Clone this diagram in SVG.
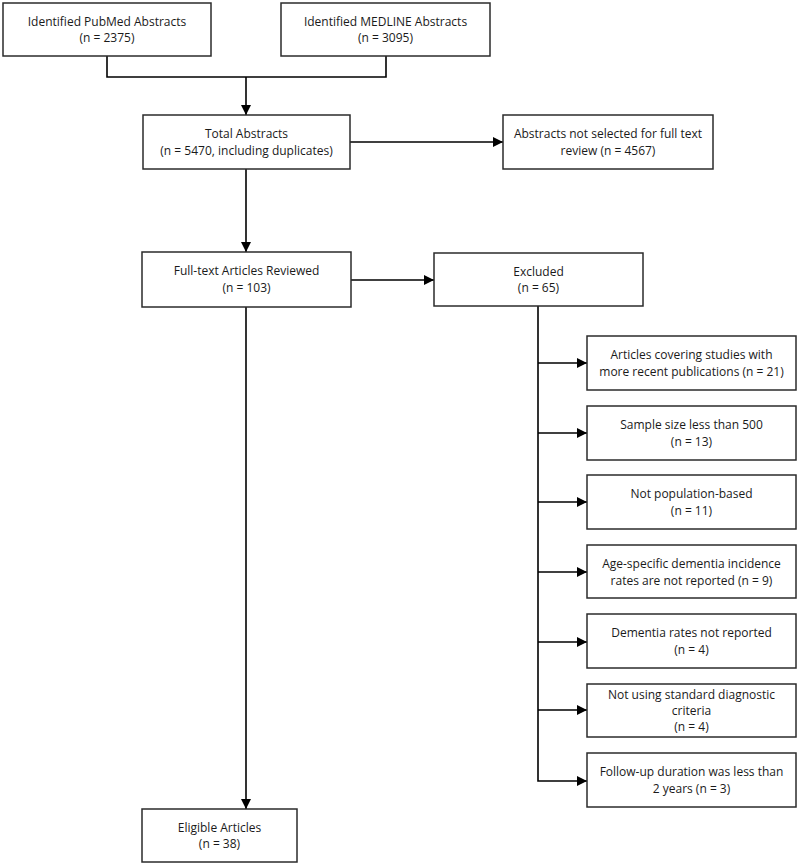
<svg xmlns="http://www.w3.org/2000/svg" width="800" height="867" viewBox="0 0 800 867">
<style>
.box{fill:#fff;stroke:#2b2b2b;stroke-width:1.5}
.t{font-family:"Open Sans","Liberation Sans",sans-serif;font-size:12px;fill:#1a1a1a;text-anchor:middle}
.c{fill:none;stroke:#000;stroke-width:1.6}
</style>
<defs>
<marker id="ah" viewBox="0 0 10 10" refX="10" refY="5" markerWidth="10" markerHeight="10" markerUnits="userSpaceOnUse" orient="auto">
<path d="M0,0 L10,5 L0,10 z" fill="#000"/>
</marker>
</defs>
<rect width="800" height="867" fill="#fff"/>
<g id="connectors">
<path class="c" d="M107,56 V77 H386 V56"/>
<path class="c" d="M246,77 V115" marker-end="url(#ah)"/>
<path class="c" d="M350,142 H503" marker-end="url(#ah)"/>
<path class="c" d="M246,169 V252" marker-end="url(#ah)"/>
<path class="c" d="M351,280 H434" marker-end="url(#ah)"/>
<path class="c" d="M246,307 V809" marker-end="url(#ah)"/>
<path class="c" d="M538,306 V781 H587" marker-end="url(#ah)"/>
<path class="c" d="M538,363 H587" marker-end="url(#ah)"/>
<path class="c" d="M538,433 H587" marker-end="url(#ah)"/>
<path class="c" d="M538,502 H587" marker-end="url(#ah)"/>
<path class="c" d="M538,572 H587" marker-end="url(#ah)"/>
<path class="c" d="M538,642 H587" marker-end="url(#ah)"/>
<path class="c" d="M538,710 H587" marker-end="url(#ah)"/>
</g>
<g id="pubmed"><rect class="box" x="3" y="3" width="208" height="53"/>
<text class="t" x="107" y="26">Identified PubMed Abstracts</text><text class="t" x="107" y="42">(n = 2375)</text></g>
<g id="medline"><rect class="box" x="281" y="3" width="209" height="53"/>
<text class="t" x="385.5" y="26">Identified MEDLINE Abstracts</text><text class="t" x="385.5" y="42">(n = 3095)</text></g>
<g id="total"><rect class="box" x="143" y="115" width="207" height="54"/>
<text class="t" x="246.5" y="138">Total Abstracts</text><text class="t" x="246.5" y="155">(n = 5470, including duplicates)</text></g>
<g id="notselected"><rect class="box" x="503" y="115" width="210" height="54"/>
<text class="t" x="608" y="138">Abstracts not selected for full text</text><text class="t" x="608" y="155">review (n = 4567)</text></g>
<g id="fulltext"><rect class="box" x="142" y="252" width="209" height="55"/>
<text class="t" x="246.5" y="275">Full-text Articles Reviewed</text><text class="t" x="246.5" y="292">(n = 103)</text></g>
<g id="excluded"><rect class="box" x="434" y="253" width="209" height="53"/>
<text class="t" x="538.5" y="276">Excluded</text><text class="t" x="538.5" y="292">(n = 65)</text></g>
<g id="ex1"><rect class="box" x="587" y="336" width="209" height="54"/>
<text class="t" x="691.5" y="359">Articles covering studies with</text><text class="t" x="691.5" y="376">more recent publications (n = 21)</text></g>
<g id="ex2"><rect class="box" x="587" y="406" width="209" height="54"/>
<text class="t" x="691.5" y="429">Sample size less than 500</text><text class="t" x="691.5" y="446">(n = 13)</text></g>
<g id="ex3"><rect class="box" x="587" y="475" width="209" height="54"/>
<text class="t" x="691.5" y="498">Not population-based</text><text class="t" x="691.5" y="515">(n = 11)</text></g>
<g id="ex4"><rect class="box" x="587" y="545" width="209" height="53"/>
<text class="t" x="691.5" y="568">Age-specific dementia incidence</text><text class="t" x="691.5" y="585">rates are not reported (n = 9)</text></g>
<g id="ex5"><rect class="box" x="587" y="614" width="209" height="54"/>
<text class="t" x="691.5" y="637">Dementia rates not reported</text><text class="t" x="691.5" y="654">(n = 4)</text></g>
<g id="ex6"><rect class="box" x="587" y="684" width="209" height="53"/>
<text class="t" x="691.5" y="699">Not using standard diagnostic</text><text class="t" x="691.5" y="715">criteria</text><text class="t" x="691.5" y="731">(n = 4)</text></g>
<g id="ex7"><rect class="box" x="587" y="753" width="209" height="54"/>
<text class="t" x="691.5" y="776">Follow-up duration was less than</text><text class="t" x="691.5" y="793">2 years (n = 3)</text></g>
<g id="eligible"><rect class="box" x="142" y="809" width="155" height="53"/>
<text class="t" x="219.5" y="832">Eligible Articles</text><text class="t" x="219.5" y="848">(n = 38)</text></g>
</svg>
